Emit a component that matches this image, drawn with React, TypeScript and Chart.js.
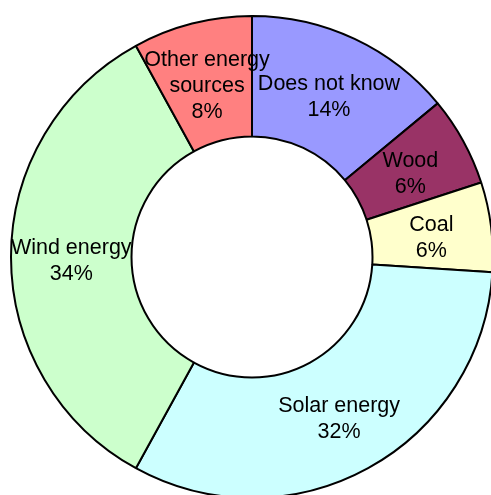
import React, { useEffect, useRef } from "react";
import { Chart, registerables } from "chart.js";

Chart.register(...registerables);

const categories = ["Does not know", "Wood", "Coal", "Solar energy", "Wind energy", "Other energy sources"];
const labelLines = [["Does not know"], ["Wood"], ["Coal"], ["Solar energy"], ["Wind energy"], ["Other energy", "sources"]];
const shares = [14, 6, 6, 32, 34, 8];
const colors = ["#9999FF", "#993366", "#FFFFCC", "#CCFFFF", "#CCFFCC", "#FF8080"];

const labelPlugin = {
  id: "sliceLabels",
  afterDatasetsDraw(chart: any) {
    const ctx = chart.ctx;
    const meta = chart.getDatasetMeta(0);
    const total = shares.reduce((a, b) => a + b, 0);
    ctx.save();
    ctx.font = "21.5px 'Liberation Sans', Arial, sans-serif";
    ctx.fillStyle = "#000";
    ctx.textAlign = "center";
    ctx.textBaseline = "middle";
    const lh = 26;
    meta.data.forEach((arc: any, i: number) => {
      const p = arc.getCenterPoint();
      const lines = [...labelLines[i], Math.round((shares[i] / total) * 100) + "%"];
      const y0 = p.y + 4 - ((lines.length - 1) * lh) / 2;
      lines.forEach((t, k) => ctx.fillText(t, p.x, y0 + k * lh));
    });
    ctx.restore();
  },
};

export default function App() {
  const ref = useRef<HTMLCanvasElement>(null);
  useEffect(() => {
    const chart = new Chart(ref.current!, {
      type: "doughnut",
      data: {
        labels: categories,
        datasets: [
          {
            data: shares,
            backgroundColor: colors,
            borderColor: "#000",
            borderWidth: 2,
          },
        ],
      },
      options: {
        animation: false,
        responsive: false,
        cutout: "50%",
        layout: { padding: 0 },
        plugins: { legend: { display: false }, tooltip: { enabled: false } },
      },
      plugins: [labelPlugin],
    });
    return () => chart.destroy();
  }, []);
  return (
    <div style={{ position: "fixed", left: 0, top: 0, width: 491, height: 495, overflow: "hidden", background: "#fff" }}>
      <canvas ref={ref} width={484} height={484} style={{ position: "absolute", left: 10, top: 15, width: 484, height: 484 }} />
    </div>
  );
}
